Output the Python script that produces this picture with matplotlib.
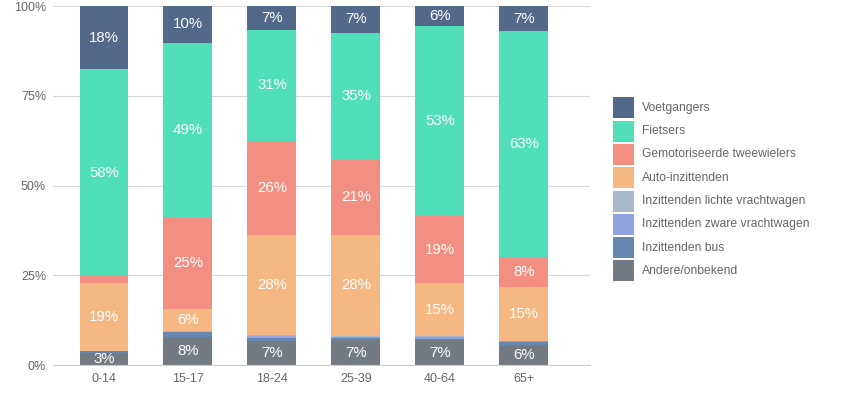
import matplotlib
matplotlib.use("Agg")
import matplotlib.pyplot as plt
from matplotlib.patches import Rectangle
import numpy as np

plt.rcParams["font.family"] = ["Liberation Sans", "DejaVu Sans"]

categories = ["0-14", "15-17", "18-24", "25-39", "40-64", "65+"]
series_names = ["Andere/onbekend", "Inzittenden bus", "Inzittenden zware vrachtwagen",
                "Inzittenden lichte vrachtwagen", "Auto-inzittenden",
                "Gemotoriseerde tweewielers", "Fietsers", "Voetgangers"]
andere = [3.4, 7.8, 6.6, 6.9, 6.9, 5.7]
bus = [0.5, 1.3, 0.8, 0.5, 0.4, 0.8]
zware = [0.0, 0.2, 0.6, 0.4, 0.4, 0.1]
lichte = [0.0, 0.1, 0.4, 0.4, 0.4, 0.1]
auto = [19.0, 6.2, 27.8, 28.0, 14.7, 15.0]
gemot = [1.8, 25.4, 26.2, 21.2, 18.7, 8.4]
fietsers = [57.7, 48.8, 31.0, 35.2, 52.9, 62.9]
voetgangers = [17.6, 10.2, 6.6, 7.4, 5.6, 7.0]
y_ticks = [0, 25, 50, 75, 100]
y_tick_labels = ["0%", "25%", "50%", "75%", "100%"]

series = [andere, bus, zware, lichte, auto, gemot, fietsers, voetgangers]
colors = ["#737a82", "#6787b0", "#8fa3e0", "#a8b8c8", "#f5b883", "#f28f82", "#50dfb9", "#52698a"]

fig = plt.figure(figsize=(8.57, 3.95), dpi=100)
W, H = 857, 395
ax = fig.add_axes([53 / W, 1 - 365 / H, (590 - 53) / W, (365 - 6) / H])

x = np.arange(len(categories))
bottom = np.zeros(len(categories))
for vals, col in zip(series, colors):
    v = np.array(vals)
    ax.bar(x, v, bottom=bottom, width=0.583, color=col, linewidth=0, zorder=2)
    for xi, (b, val) in enumerate(zip(bottom, v)):
        if val >= 3:
            ax.text(xi, b + val / 2, f"{round(val)}%", ha="center", va="center",
                    color="white", fontsize=10.8, zorder=3)
    bottom += v

ax.set_xlim(-0.607, 5.786)
ax.set_ylim(0, 100)
ax.set_yticks(y_ticks)
ax.set_yticklabels(y_tick_labels)
ax.set_xticks(x)
ax.set_xticklabels(categories)
ax.tick_params(axis="both", colors="#666666", labelsize=9, length=0)
ax.tick_params(axis="y", pad=5)
ax.tick_params(axis="x", pad=6)
ax.yaxis.grid(True, color="#d8d8d8", linewidth=0.8, zorder=0)
ax.set_axisbelow(True)
for s in ["top", "right", "left"]:
    ax.spines[s].set_visible(False)
ax.spines["bottom"].set_color("#cccccc")
ax.spines["bottom"].set_linewidth(0.8)
ax.spines["bottom"].set_zorder(4)

# legend, drawn manually (top entry = last series)
leg_x, leg_y, box, pitch = 613, 97.3, 21, 23.3
for i, (name, col) in enumerate(zip(series_names[::-1], colors[::-1])):
    top = leg_y + i * pitch
    fig.patches.append(Rectangle((leg_x / W, 1 - (top + box) / H), box / W, box / H,
                                 transform=fig.transFigure, facecolor=col,
                                 edgecolor="none"))
    fig.text(642 / W, 1 - (top + box / 2) / H, name, ha="left", va="center",
             fontsize=8.7, color="#666666")

fig.savefig("out.png", dpi=100)
